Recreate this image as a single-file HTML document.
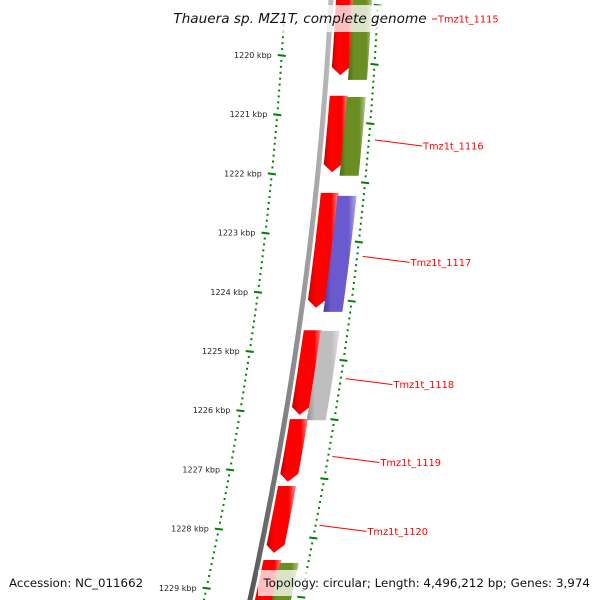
<!DOCTYPE html>
<html><head><meta charset="utf-8"><style>
html,body{margin:0;padding:0;background:#fff;}
svg{display:block;font-family:"DejaVu Sans","Liberation Sans",sans-serif;}
</style></head><body>
<svg id="chart" width="600" height="600" viewBox="0 0 600 600" xmlns="http://www.w3.org/2000/svg">
<defs>
<linearGradient id="gRed" x1="0" x2="1" y1="0" y2="0"><stop offset="0" stop-color="#c00000"/><stop offset="0.25" stop-color="#ff0000"/><stop offset="0.75" stop-color="#ff0000"/><stop offset="1" stop-color="#ff9090"/></linearGradient>
<linearGradient id="gGreen" x1="0" x2="1" y1="0" y2="0"><stop offset="0" stop-color="#4d6b15"/><stop offset="0.25" stop-color="#6b8e23"/><stop offset="0.75" stop-color="#6b8e23"/><stop offset="1" stop-color="#b5c98a"/></linearGradient>
<linearGradient id="gBlue" x1="0" x2="1" y1="0" y2="0"><stop offset="0" stop-color="#4a3aa0"/><stop offset="0.25" stop-color="#6a5acd"/><stop offset="0.75" stop-color="#6a5acd"/><stop offset="1" stop-color="#b0a8e8"/></linearGradient>
<linearGradient id="gGray" x1="0" x2="1" y1="0" y2="0"><stop offset="0" stop-color="#909090"/><stop offset="0.25" stop-color="#bebebe"/><stop offset="0.75" stop-color="#bebebe"/><stop offset="1" stop-color="#e4e4e4"/></linearGradient>
<linearGradient id="gBack" x1="0" x2="1" y1="0" y2="0"><stop offset="0" stop-color="#555"/><stop offset="0.5" stop-color="#888"/><stop offset="1" stop-color="#bbb"/></linearGradient>
</defs>
<g id="layer"></g>
</svg>
<script>
// data
const majorTicks = [1220,1221,1222,1223,1224,1225,1226,1227,1228,1229];
const tickLabels = ["1220 kbp","1221 kbp","1222 kbp","1223 kbp","1224 kbp","1225 kbp","1226 kbp","1227 kbp","1228 kbp","1229 kbp"];
const geneNames = ["Tmz1t_1115","Tmz1t_1116","Tmz1t_1117","Tmz1t_1118","Tmz1t_1119","Tmz1t_1120","Tmz1t_1121"];
const geneStart = [1219.0,1220.69,1222.33,1224.65,1226.15,1227.28,1228.53];
const geneEnd   = [1220.34,1221.98,1224.27,1226.08,1227.21,1228.41,1229.5];
const geneStrand = [-1,-1,-1,-1,-1,-1,-1];
const cogStart = [1219.0,1220.71,1222.38,1224.66,1228.58];
const cogEnd   = [1220.42,1222.04,1224.34,1226.17,1229.5];
const cogColor = ["gGreen","gGreen","gBlue","gGray","gGreen"];
const labelGeneIdx = [0,1,2,3,4,5];

// axis functions
const svg = document.getElementById('layer');
const NS = "http://www.w3.org/2000/svg";
function yOf(k){ return 55 + (k-1220)*59.2; }
function bx(y){ return 331 - 0.0517*y - 0.000139*y*y; }
function el(tag, attrs){ const e=document.createElementNS(NS,tag); for(const a in attrs) e.setAttribute(a,attrs[a]); svg.appendChild(e); return e; }

// backbone
let bp=[]; for(let y=-5;y<=605;y+=5){ bp.push(bx(y).toFixed(1)+','+y); }
const bb = el('polyline',{points:bp.join(' '),fill:'none',stroke:'url(#gBack)','stroke-width':5});



function band(k0,k1,o0,o1,arrowDown,fill,name){
  let y0=Math.max(yOf(k0),-10), y1=Math.min(yOf(k1),610);
  const ah = arrowDown && yOf(k1)<610 ? 8 : 0;
  let L=[],R=[];
  for(let y=y0;y<=y1-ah;y+=4){ L.push([bx(y)+o0,y]); R.push([bx(y)+o1,y]); }
  const ye=y1-ah; L.push([bx(ye)+o0,ye]); R.push([bx(ye)+o1,ye]);
  let pts=L.slice();
  if(ah){ pts.push([bx(y1)+(o0+o1)/2,y1]); }
  pts=pts.concat(R.reverse());
  const p=el('polygon',{points:pts.map(q=>q[0].toFixed(1)+','+q[1].toFixed(1)).join(' '),fill:'url(#'+fill+')'});
  
  
}

// gene features
for(let i=0;i<geneStart.length;i++) band(geneStart[i],geneEnd[i],5,23,geneStrand[i]<0,'gRed','gene-'+geneNames[i]);
for(let i=0;i<cogStart.length;i++) band(cogStart[i],cogEnd[i],22,41,false,cogColor[i],'cog-feature-'+i);

// left tick track
for(let k=1219.1;k<=1229.3;k+=0.1){
  const kk=Math.round(k*10)/10; const y=yOf(kk); if(y<25||y>600) continue;
  const major=Math.abs(kk-Math.round(kk))<0.01;
  const x=bx(y)-46;
  const d=el('line',{x1:x-(major?4:1),y1:y,x2:x+(major?4:1),y2:y+(major?1:0),stroke:'#008000','stroke-width':major?2:2});
  
  
}
for(let i=0;i<majorTicks.length;i++){
  const y=yOf(majorTicks[i]);
  const t=el('text',{x:bx(y)-56,y:y+3,'font-size':8,'text-anchor':'end',fill:'#222'});
  t.textContent=tickLabels[i];
  
  
}
// right tick track
for(let k=1219.05;k<=1229.3;k+=0.1){
  const kk=Math.round(k*100)/100; const y=yOf(kk); if(y<-2||y>600) continue;
  const major=Math.abs((kk-0.15)-Math.round(kk-0.15))<0.01;
  const x=bx(y)+47+ y*0.006;
  const d=el('line',{x1:x-(major?4:1),y1:y,x2:x+(major?4:1),y2:y+(major?1:0),stroke:'#008000','stroke-width':2});
  
  
}
// gene labels
for(let j=0;j<labelGeneIdx.length;j++){
  const i=labelGeneIdx[j];
  let ys, x0, lx;
  if(j===0){ ys=19; x0=432; lx=437; }
  else { ys=(yOf(geneStart[i])+yOf(geneEnd[i]))/2 + 6; x0=bx(ys)+54; lx=x0+47; }
  const ln=el('line',{x1:x0,y1:ys,x2:lx,y2:ys+(j===0?0:6),stroke:'#ff0000','stroke-width':1});
  
  
  const t=el('text',{x:lx+1,y:ys+(j===0?0:6)+3.5,'font-size':9.8,fill:'#ff0000'});
  t.textContent=geneNames[i];
  
  
}
// title & footer
const tb=el('rect',{x:168,y:5,width:262,height:27,fill:'rgba(255,255,255,0.75)'});


const tt=el('text',{x:300,y:23,'font-size':13.6,'font-style':'italic','text-anchor':'middle',fill:'#111'});
tt.textContent='Thauera sp. MZ1T, complete genome';


const fb=el('rect',{x:258,y:570,width:338,height:26,fill:'rgba(255,255,255,0.75)'});


const fa=el('text',{x:9,y:587,'font-size':11.8,fill:'#111'});
fa.textContent='Accession: NC_011662';


const ft=el('text',{x:590,y:587,'font-size':11.9,'text-anchor':'end',fill:'#111'});
ft.textContent='Topology: circular; Length: 4,496,212 bp; Genes: 3,974';


</script>
</body></html>
